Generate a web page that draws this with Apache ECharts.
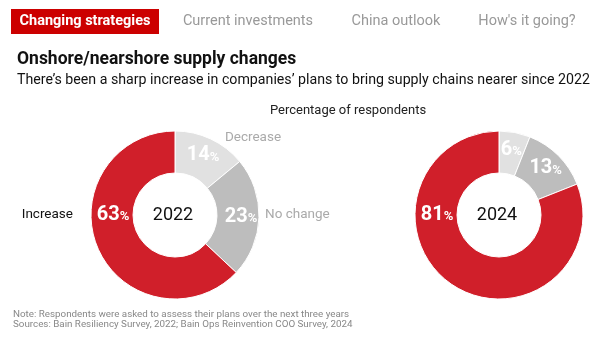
<!DOCTYPE html>
<html><head><meta charset="utf-8">
<script src="https://cdn.jsdelivr.net/npm/echarts@6/dist/echarts.min.js"></script>
<style>html,body{margin:0;padding:0;background:#fff}#c{width:600px;height:341px}</style>
</head><body><div id="c"></div>
<script>
const categories = ['Decrease', 'No change', 'Increase'];
const years = ['2022', '2024'];
const values2022 = [14, 23, 63];
const values2024 = [6, 13, 81];
const tabs = ['Changing strategies', 'Current investments', 'China outlook', "How's it going?"];
const colors = ['#e1e1e1', '#bdbdbd', '#d01f2a'];
const FONT = 'Roboto';

const centers = [[175, 215], [499, 215]];
const allValues = [values2022, values2024];

function makeSeries(idx) {
  const c = centers[idx];
  return {
    type: 'pie',
    radius: [42, 84],
    center: c,
    startAngle: 90,
    clockwise: true,
    silent: true,
    itemStyle: { borderColor: '#fff', borderWidth: 1 },
    data: allValues[idx].map((v, i) => ({ name: categories[i], value: v, itemStyle: { color: colors[i] } })),
    label: {
      show: true,
      position: 'inside',
      formatter: p => '{n|' + p.value + '}{p|%}',
      rich: {
        n: { fontFamily: FONT, fontSize: 20, fontWeight: 'bold', color: '#fff' },
        p: { fontFamily: FONT, fontSize: 13, fontWeight: 'bold', color: '#fff', padding: [4, 0, 0, 0] }
      }
    },
    labelLine: { show: false },
    labelLayout: function (params) {
      if (params.dataIndex === 2) {
        return { x: c[0] - 62, y: c[1], align: 'center', verticalAlign: 'middle' };
      }
    }
  };
}

const graphics = [];
// tabs
graphics.push({ type: 'rect', shape: { x: 11, y: 9, width: 148, height: 25 }, style: { fill: '#cc0000' } });
const tabX = [85, 248, 396, 527];
tabs.forEach((t, i) => graphics.push({
  type: 'text', x: tabX[i], y: 21.5,
  style: { text: t, fontFamily: FONT, fontSize: 14.5, fontWeight: i === 0 ? 'bold' : 'normal', fill: i === 0 ? '#fff' : '#999', align: 'center', verticalAlign: 'middle' }
}));
graphics.push({ type: 'text', x: 17, y: 60, style: { text: 'Onshore/nearshore supply changes', fontFamily: FONT, fontSize: 17.5, fontWeight: 'bold', fill: '#111', verticalAlign: 'middle' } });
graphics.push({ type: 'text', x: 17, y: 80, style: { text: 'There\u2019s been a sharp increase in companies\u2019 plans to bring supply chains nearer since 2022', fontFamily: FONT, fontSize: 14.2, fill: '#111', verticalAlign: 'middle' } });
graphics.push({ type: 'text', x: 348, y: 111, style: { text: 'Percentage of respondents', fontFamily: FONT, fontSize: 13, fill: '#222', align: 'center', verticalAlign: 'middle' } });
// year labels
years.forEach((y, i) => graphics.push({ type: 'text', x: centers[i][0] - 2, y: centers[i][1], style: { text: y, fontFamily: FONT, fontSize: 18, fill: '#111', align: 'center', verticalAlign: 'middle' } }));
// category labels (2022 only)
graphics.push({ type: 'text', x: 253, y: 138, style: { text: categories[0], fontFamily: FONT, fontSize: 13.5, fill: '#aaa', align: 'center', verticalAlign: 'middle' } });
graphics.push({ type: 'text', x: 265, y: 215, style: { text: categories[1], fontFamily: FONT, fontSize: 13.5, fill: '#aaa', align: 'left', verticalAlign: 'middle' } });
graphics.push({ type: 'text', x: 73, y: 215, style: { text: categories[2], fontFamily: FONT, fontSize: 13.5, fill: '#111', align: 'right', verticalAlign: 'middle' } });
// notes
graphics.push({ type: 'text', x: 13, y: 315, style: { text: 'Note: Respondents were asked to assess their plans over the next three years', fontFamily: FONT, fontSize: 9.8, fill: '#888', verticalAlign: 'middle' } });
graphics.push({ type: 'text', x: 13, y: 325, style: { text: 'Sources: Bain Resiliency Survey, 2022; Bain Ops Reinvention COO Survey, 2024', fontFamily: FONT, fontSize: 9.8, fill: '#888', verticalAlign: 'middle' } });

const chart = echarts.init(document.getElementById('c'), null, { renderer: 'canvas' });
chart.setOption({
  animation: false,
  backgroundColor: '#fff',
  series: [makeSeries(0), makeSeries(1)],
  graphic: graphics
});
</script></body></html>
